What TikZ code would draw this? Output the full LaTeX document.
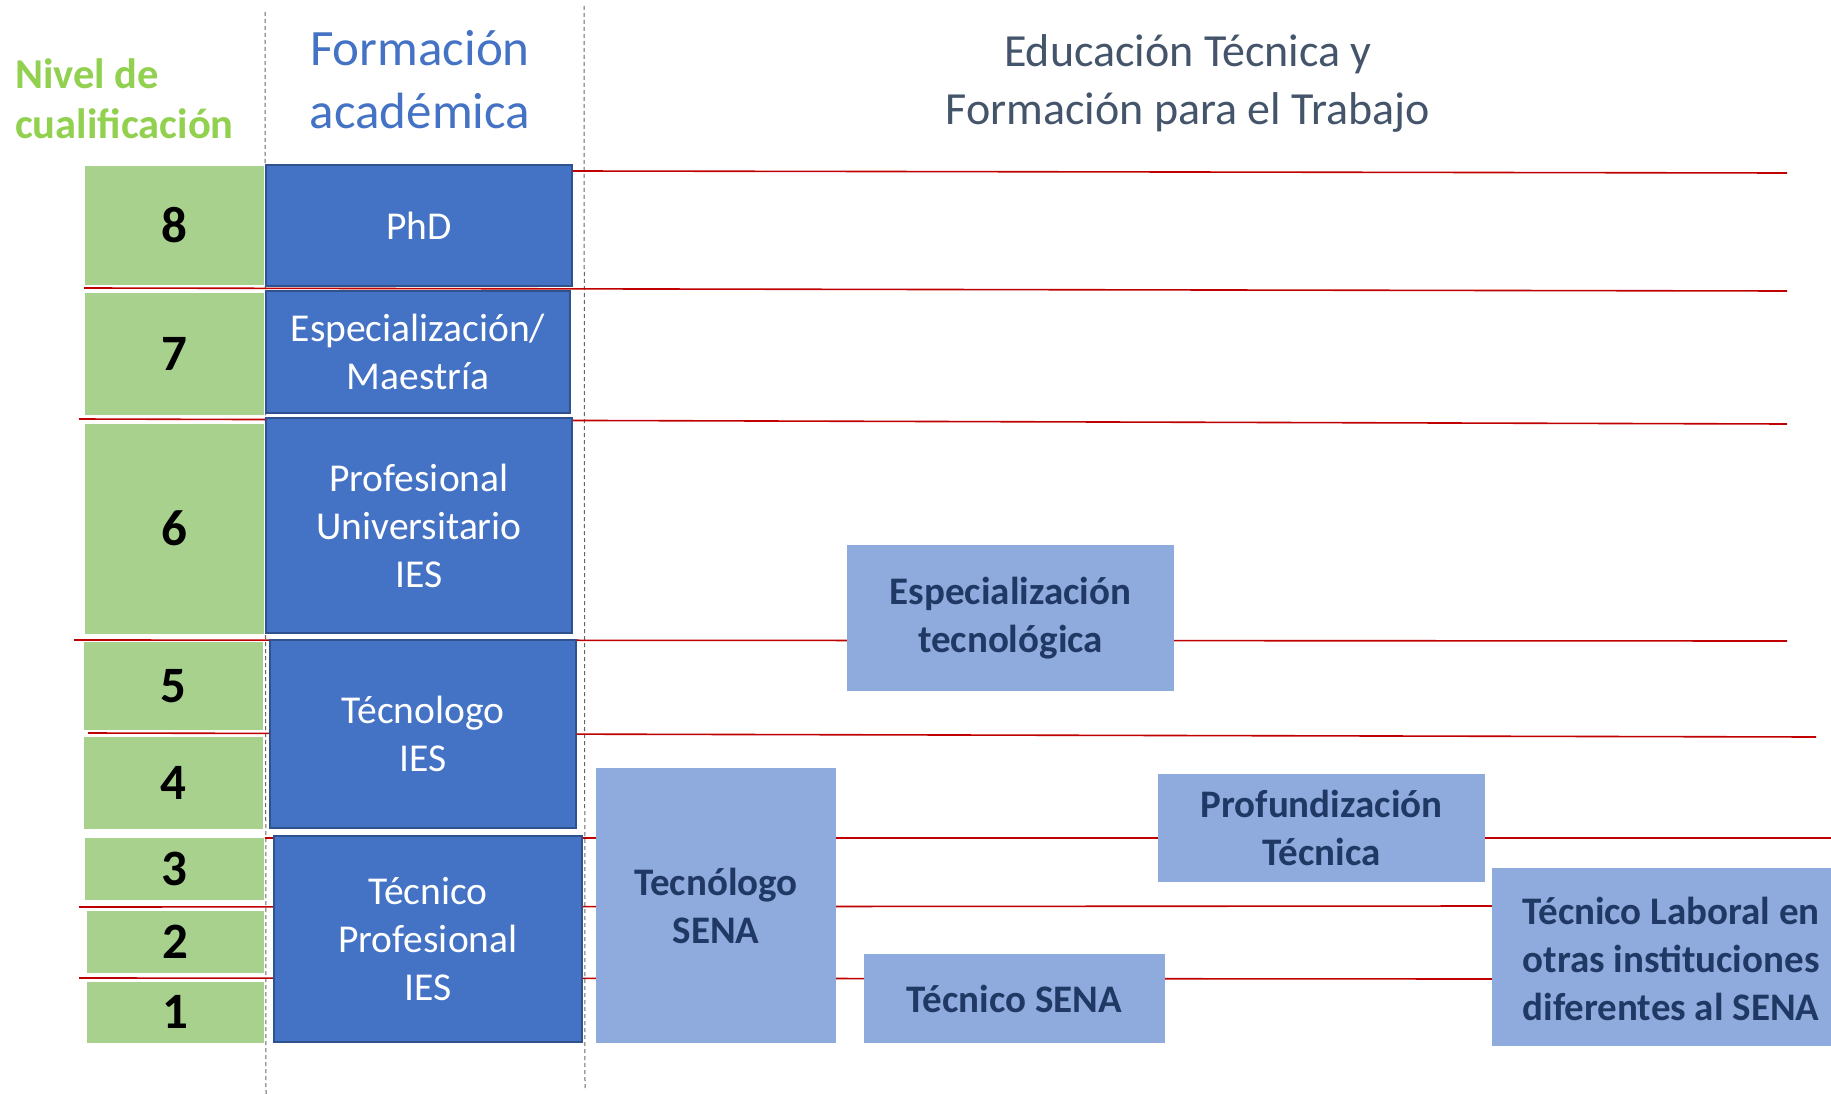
\documentclass[tikz,border=0pt]{standalone}
\usepackage{fontspec}
\setmainfont{Carlito}
\definecolor{lgreen}{HTML}{A9D18E}
\definecolor{tgreen}{HTML}{92D050}
\definecolor{mblue}{HTML}{4472C4}
\definecolor{bborder}{HTML}{2F528F}
\definecolor{lblue}{HTML}{8FAADC}
\definecolor{navy}{HTML}{203864}
\definecolor{slate}{HTML}{44546A}
\definecolor{redline}{HTML}{C00000}
\begin{document}
\begin{tikzpicture}[x=1pt,y=-1pt,
  lvl/.style={draw=redline,line width=1.6pt},
  sep/.style={draw=black!60,dashed,line width=1pt,dash pattern=on 4pt off 3pt},
  greenbox/.style={fill=lgreen,draw=white,line width=1pt,inner sep=0pt,minimum width=180pt,
    font=\fontsize{51}{60}\selectfont\bfseries,text=black},
  bluebox/.style={fill=mblue,draw=bborder,line width=2.5pt,inner sep=0pt,align=center,
    font=\fontsize{39.5}{48}\selectfont,text=white},
  lightbox/.style={fill=lblue,inner sep=0pt,align=center,
    font=\fontsize{39}{48}\selectfont\bfseries,text=navy}]
\useasboundingbox (0,0) rectangle (1831,1094);
\fill[white] (0,0) rectangle (1831,1094);
% titles
\node[anchor=west,align=left,text=tgreen,font=\fontsize{42.5}{50}\selectfont\bfseries,inner sep=0pt] (tnivel) at (15,99) {Nivel de\\cualificación};
\node[align=center,text=mblue,font=\fontsize{51}{63}\selectfont,inner sep=0pt] (tform) at (420,80) {Formación\\académica};
\node[align=center,text=slate,font=\fontsize{46}{58}\selectfont,inner sep=0pt] (tedu) at (1188,83) {Educación Técnica y\\Formación para el Trabajo};
% dashed separators
\coordinate (s1a) at (265,12); \coordinate (s1b) at (266,1094);
\coordinate (s2a) at (584,6); \coordinate (s2b) at (585,1088);
\draw[sep] (s1a) -- (s1b);
\draw[sep] (s2a) -- (s2b);
% level lines
\coordinate (l8a) at (572,171); \coordinate (l8b) at (1787,173);
\coordinate (l7a) at (84,288); \coordinate (l7b) at (1787,291);
\coordinate (l6a) at (79,419); \coordinate (l6b) at (1787,424);
\coordinate (l5a) at (74,640); \coordinate (l5b) at (1787,641);
\coordinate (l4a) at (88,733); \coordinate (l4b) at (1816,737);
\coordinate (l3a) at (265,838); \coordinate (l3b) at (1831,838);
\coordinate (l2a) at (79,907); \coordinate (l2b) at (1500,906);
\coordinate (l1a) at (79,978); \coordinate (l1b) at (1500,979);
\foreach \n in {8,7,6,5,4,3,2,1}{\draw[lvl] (l\n a) -- (l\n b);}
% green level boxes
\node[greenbox,minimum height=119pt] (g8) at (174,225.5) {8};
\node[greenbox,minimum height=123pt] (g7) at (174,353.5) {7};
\node[greenbox,minimum height=211pt] (g6) at (174,528.5) {6};
\node[greenbox,minimum height=89pt] (g5) at (173,686) {5};
\node[greenbox,minimum height=93pt] (g4) at (173,782.5) {4};
\node[greenbox,minimum height=63pt] (g3) at (174,868.5) {3};
\node[greenbox,minimum height=63pt,minimum width=178pt] (g2) at (175,941.5) {2};
\node[greenbox,minimum height=62pt,minimum width=178pt] (g1) at (175,1012) {1};
% academic boxes
\node[bluebox,minimum width=306pt,minimum height=121pt] (phd) at (419,225.5) {PhD};
\node[bluebox,minimum width=304pt,minimum height=122pt] (esp) at (418,352) {Especialización/\\Maestría};
\node[bluebox,minimum width=306pt,minimum height=215pt] (prof) at (419,525.5) {Profesional\\Universitario\\IES};
\node[bluebox,minimum width=306pt,minimum height=188pt] (tecies) at (423,734) {Técnologo\\IES};
\node[bluebox,minimum width=308pt,minimum height=206pt] (tprof) at (428,939) {Técnico\\Profesional\\IES};
% ETFT boxes
\node[lightbox,minimum width=327pt,minimum height=146pt] (esptec) at (1010.5,618) {Especialización\\tecnológica};
\node[lightbox,minimum width=240pt,minimum height=275pt] (tsena) at (716,905.5) {Tecnólogo\\SENA};
\node[lightbox,minimum width=301pt,minimum height=89pt] (tecsena) at (1014.5,998.5) {Técnico SENA};
\node[lightbox,minimum width=327pt,minimum height=108pt] (profund) at (1321.5,828) {Profundización\\Técnica};
\node[fill=lblue,inner sep=0pt,minimum width=339pt,minimum height=178pt] (teclab) at (1661.5,957) {};
\node[align=center,font=\fontsize{39}{48}\selectfont\bfseries,text=navy,inner sep=0pt] (teclabt) at (1671,959) {Técnico Laboral en\\otras instituciones\\diferentes al SENA};
\end{tikzpicture}
\end{document}
